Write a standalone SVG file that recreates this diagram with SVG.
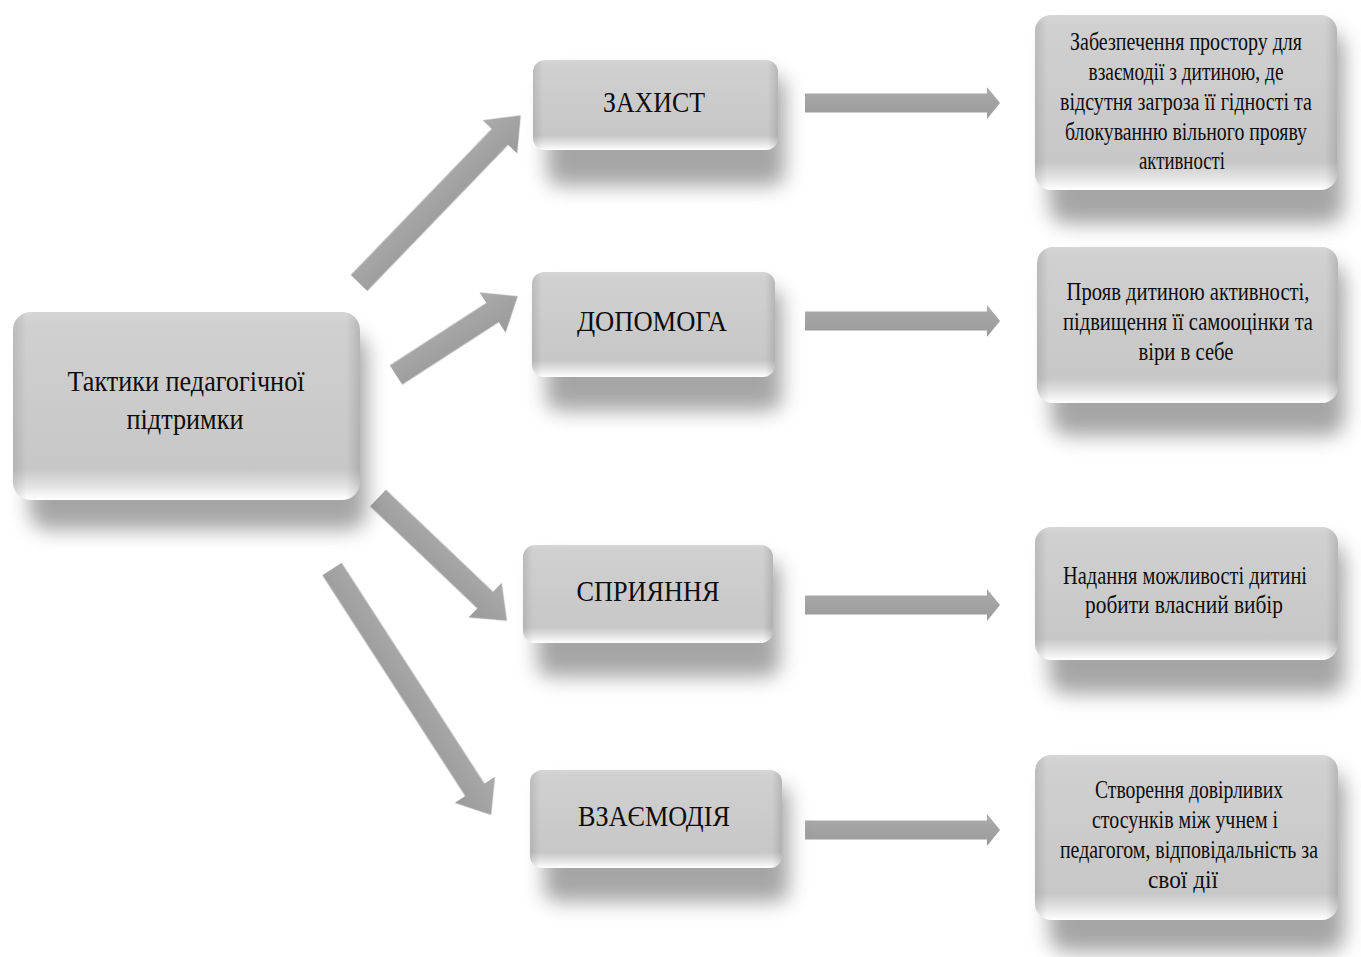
<svg xmlns="http://www.w3.org/2000/svg" width="1361" height="957" viewBox="0 0 1361 957">
<defs>
<linearGradient id="boxg" x1="0" y1="0" x2="0" y2="1">
<stop offset="0" stop-color="#d6d6d6"/>
<stop offset="0.06" stop-color="#d0d0d0"/>
<stop offset="0.84" stop-color="#c7c7c7"/>
<stop offset="0.93" stop-color="#e4e4e4"/>
<stop offset="1" stop-color="#ffffff"/>
</linearGradient>
<linearGradient id="edgeg" x1="0" y1="0" x2="1" y2="0">
<stop offset="0" stop-color="#000" stop-opacity="0.10"/>
<stop offset="0.04" stop-color="#000" stop-opacity="0"/>
<stop offset="0.96" stop-color="#000" stop-opacity="0"/>
<stop offset="1" stop-color="#000" stop-opacity="0.12"/>
</linearGradient>
<linearGradient id="arrg" x1="0" y1="0" x2="0" y2="1">
<stop offset="0" stop-color="#ababab"/>
<stop offset="1" stop-color="#9a9a9a"/>
</linearGradient>
<filter id="blur" x="-30%" y="-30%" width="160%" height="160%">
<feGaussianBlur stdDeviation="10"/>
</filter>
<filter id="soft" x="-10%" y="-10%" width="120%" height="120%">
<feGaussianBlur stdDeviation="0.6"/>
</filter>
</defs>
<style>
.sh{fill:#6a6a6a;opacity:0.6;filter:url(#blur)}
.bx{fill:url(#boxg)}
.ed{fill:url(#edgeg)}
.arr{fill:url(#arrg);filter:url(#soft)}
.t{font-family:"Liberation Serif","Times New Roman",serif;fill:#0d0d0d;text-anchor:middle}
.tm{font-size:30px}
.tl{font-size:30px}
.tr{font-size:25px}
</style>
<rect width="1361" height="957" fill="#ffffff"/>

<g id="connectors">
<path class="arr" transform="translate(359,283) rotate(-46.04)" d="M0,-11.5 H203 V-24 L233,0 L203,24 V11.5 H0 Z"/>
<path class="arr" transform="translate(396,375) rotate(-32.9)" d="M0,-11.5 H115 V-24 L145,0 L115,24 V11.5 H0 Z"/>
<path class="arr" transform="translate(378,498) rotate(43.6)" d="M0,-11.5 H148 V-24 L178,0 L148,24 V11.5 H0 Z"/>
<path class="arr" transform="translate(332,569) rotate(57.1)" d="M0,-11.5 H263 V-24 L293,0 L263,24 V11.5 H0 Z"/>
<path class="arr" transform="translate(805,103)" d="M0,-9.5 H182 V-16 L195,0 L182,16 V9.5 H0 Z"/>
<path class="arr" transform="translate(805,321)" d="M0,-9.5 H182 V-16 L195,0 L182,16 V9.5 H0 Z"/>
<path class="arr" transform="translate(805,605)" d="M0,-9.5 H182 V-16 L195,0 L182,16 V9.5 H0 Z"/>
<path class="arr" transform="translate(805,830)" d="M0,-9.5 H182 V-16 L195,0 L182,16 V9.5 H0 Z"/>
</g>

<g id="node-main">
<rect class="sh" x="29" y="334" width="338" height="196" rx="20"/>
<rect class="bx" x="13" y="312" width="347" height="188" rx="18"/>
<rect class="ed" x="13" y="312" width="347" height="188" rx="18"/>
<text class="t tm" x="186" y="391" textLength="237" lengthAdjust="spacingAndGlyphs">Тактики педагогічної</text>
<text class="t tm" x="185" y="429" textLength="117" lengthAdjust="spacingAndGlyphs">підтримки</text>
</g>

<g id="node-zakhyst">
<rect class="sh" x="547" y="76" width="238" height="110" rx="14"/>
<rect class="bx" x="533" y="60" width="245" height="90" rx="12"/>
<rect class="ed" x="533" y="60" width="245" height="90" rx="12"/>
<text class="t tl" x="654" y="112" textLength="102" lengthAdjust="spacingAndGlyphs">ЗАХИСТ</text>
</g>

<g id="node-dopomoha">
<rect class="sh" x="546" y="289" width="236" height="122" rx="14"/>
<rect class="bx" x="532" y="272" width="243" height="105" rx="12"/>
<rect class="ed" x="532" y="272" width="243" height="105" rx="12"/>
<text class="t tl" x="652" y="331" textLength="150" lengthAdjust="spacingAndGlyphs">ДОПОМОГА</text>
</g>

<g id="node-spryiannia">
<rect class="sh" x="537" y="561" width="243" height="116" rx="14"/>
<rect class="bx" x="523" y="545" width="250" height="98" rx="12"/>
<rect class="ed" x="523" y="545" width="250" height="98" rx="12"/>
<text class="t tl" x="648" y="601" textLength="143" lengthAdjust="spacingAndGlyphs">СПРИЯННЯ</text>
</g>

<g id="node-vzaiemodiia">
<rect class="sh" x="544" y="786" width="245" height="116" rx="14"/>
<rect class="bx" x="530" y="770" width="252" height="98" rx="12"/>
<rect class="ed" x="530" y="770" width="252" height="98" rx="12"/>
<text class="t tl" x="654" y="826" textLength="152" lengthAdjust="spacingAndGlyphs">ВЗАЄМОДІЯ</text>
</g>

<g id="node-desc1">
<rect class="sh" x="1049" y="32" width="295" height="192" rx="18"/>
<rect class="bx" x="1035" y="15" width="302" height="175" rx="16"/>
<rect class="ed" x="1035" y="15" width="302" height="175" rx="16"/>
<text class="t tr" x="1186" y="50" textLength="232" lengthAdjust="spacingAndGlyphs">Забезпечення простору для</text>
<text class="t tr" x="1186" y="80" textLength="195" lengthAdjust="spacingAndGlyphs">взаємодії з дитиною, де</text>
<text class="t tr" x="1186" y="110" textLength="252" lengthAdjust="spacingAndGlyphs">відсутня загроза її гідності та</text>
<text class="t tr" x="1186" y="140" textLength="242" lengthAdjust="spacingAndGlyphs">блокуванню вільного прояву</text>
<text class="t tr" x="1182" y="169" textLength="86" lengthAdjust="spacingAndGlyphs">активності</text>
</g>

<g id="node-desc2">
<rect class="sh" x="1051" y="264" width="294" height="172" rx="18"/>
<rect class="bx" x="1037" y="247" width="301" height="156" rx="16"/>
<rect class="ed" x="1037" y="247" width="301" height="156" rx="16"/>
<text class="t tr" x="1188" y="300" textLength="243" lengthAdjust="spacingAndGlyphs">Прояв дитиною активності,</text>
<text class="t tr" x="1188" y="330" textLength="250" lengthAdjust="spacingAndGlyphs">підвищення її самооцінки та</text>
<text class="t tr" x="1186" y="360" textLength="95" lengthAdjust="spacingAndGlyphs">віри в себе</text>
</g>

<g id="node-desc3">
<rect class="sh" x="1049" y="544" width="296" height="150" rx="18"/>
<rect class="bx" x="1035" y="527" width="303" height="133" rx="16"/>
<rect class="ed" x="1035" y="527" width="303" height="133" rx="16"/>
<text class="t tr" x="1185" y="584" textLength="244" lengthAdjust="spacingAndGlyphs">Надання можливості дитині</text>
<text class="t tr" x="1184" y="613" textLength="198" lengthAdjust="spacingAndGlyphs">робити власний вибір</text>
</g>

<g id="node-desc4">
<rect class="sh" x="1049" y="772" width="296" height="180" rx="18"/>
<rect class="bx" x="1035" y="755" width="303" height="165" rx="16"/>
<rect class="ed" x="1035" y="755" width="303" height="165" rx="16"/>
<text class="t tr" x="1189" y="798" textLength="188" lengthAdjust="spacingAndGlyphs">Створення довірливих</text>
<text class="t tr" x="1185" y="828" textLength="186" lengthAdjust="spacingAndGlyphs">стосунків між учнем і</text>
<text class="t tr" x="1189" y="858" textLength="258" lengthAdjust="spacingAndGlyphs">педагогом, відповідальність за</text>
<text class="t tr" x="1183" y="888" textLength="70" lengthAdjust="spacingAndGlyphs">свої  дії</text>
</g>
</svg>
